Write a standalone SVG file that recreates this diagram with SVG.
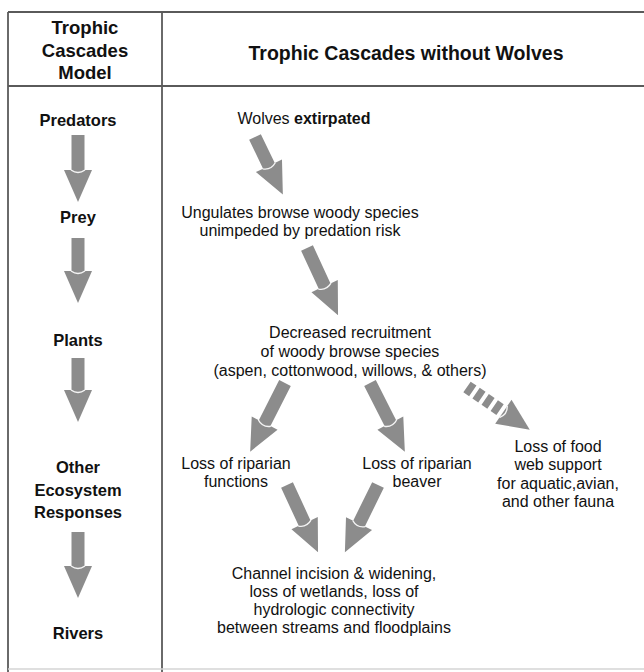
<svg xmlns="http://www.w3.org/2000/svg" width="644" height="672" viewBox="0 0 644 672">
<style>
.hd{font-family:"Liberation Sans",Arial,sans-serif;font-weight:bold;fill:#111;text-anchor:middle}
.lb{font-family:"Liberation Sans",Arial,sans-serif;font-weight:bold;font-size:16.5px;fill:#111;text-anchor:middle}
.tx{font-family:"Liberation Sans",Arial,sans-serif;font-size:16px;fill:#111;text-anchor:middle}
.arr{fill:#8c8c8c}
.notch{fill:none;stroke:#f4f4f4;stroke-width:1.4}
.dash{stroke:#8c8c8c;stroke-width:13;stroke-dasharray:7 4;fill:none}
.grid{stroke:#5a5a5a;stroke-width:1.8;fill:none}
</style>
<rect width="644" height="672" fill="#ffffff"/>
<g id="table">
<line class="grid" x1="8" y1="12" x2="644" y2="12"/>
<line class="grid" x1="8" y1="12" x2="8" y2="672"/>
<line class="grid" x1="162" y1="12" x2="162" y2="672"/>
<line class="grid" x1="8" y1="86" x2="644" y2="86"/>
<line x1="8" y1="669" x2="644" y2="669" stroke="#d4d4d4" stroke-width="1.5"/>
</g>
<g id="header">
<text class="hd" font-size="18.5" x="85" y="34">Trophic</text>
<text class="hd" font-size="18.5" x="85" y="57">Cascades</text>
<text class="hd" font-size="18.5" x="85" y="79">Model</text>
<text class="hd" font-size="19.5" x="406" y="60">Trophic Cascades without Wolves</text>
</g>
<g id="model-column">
<g id="predators"><text class="lb" x="78" y="126">Predators</text></g>
<g id="prey"><text class="lb" x="78" y="223">Prey</text></g>
<g id="plants"><text class="lb" x="78" y="346">Plants</text></g>
<g id="other"><text class="lb" x="78" y="473">Other</text><text class="lb" x="78" y="496">Ecosystem</text><text class="lb" x="78" y="518">Responses</text></g>
<g id="rivers"><text class="lb" x="78" y="639">Rivers</text></g>
</g>
<g id="n-wolves"><text class="tx" x="304" y="124">Wolves <tspan font-weight="bold">extirpated</tspan></text></g>
<g id="n-ungulates"><text class="tx" x="300" y="218">Ungulates browse woody species</text><text class="tx" x="300" y="236">unimpeded by predation risk</text></g>
<g id="n-decreased"><text class="tx" x="350" y="338">Decreased recruitment</text><text class="tx" x="350" y="357">of woody browse species</text><text class="tx" x="350" y="376">(aspen, cottonwood, willows, &amp; others)</text></g>
<g id="n-functions"><text class="tx" x="236" y="469">Loss of riparian</text><text class="tx" x="236" y="487">functions</text></g>
<g id="n-beaver"><text class="tx" x="417" y="469">Loss of riparian</text><text class="tx" x="417" y="487">beaver</text></g>
<g id="n-food"><text class="tx" x="558" y="452">Loss of food</text><text class="tx" x="558" y="470">web support</text><text class="tx" x="558" y="489">for aquatic,avian,</text><text class="tx" x="558" y="507">and other fauna</text></g>
<g id="n-channel"><text class="tx" x="334" y="579">Channel incision &amp; widening,</text><text class="tx" x="334" y="597">loss of wetlands, loss of</text><text class="tx" x="334" y="615">hydrologic connectivity</text><text class="tx" x="334" y="633">between streams and floodplains</text></g>
<g id="connectors">
<g transform="translate(78,135)"><path class="arr" d="M-6.5 0H6.5V35H14L0 67L-14 35H-6.5Z"/><path class="notch" d="M-7 35Q0 40 7 35"/></g>
<g transform="translate(78,238)"><path class="arr" d="M-6.5 0H6.5V33H14L0 65L-14 33H-6.5Z"/><path class="notch" d="M-7 33Q0 38 7 33"/></g>
<g transform="translate(78,358)"><path class="arr" d="M-6.5 0H6.5V32H14L0 64L-14 32H-6.5Z"/><path class="notch" d="M-7 32Q0 37 7 32"/></g>
<g transform="translate(78,532)"><path class="arr" d="M-6.5 0H6.5V34H14L0 66L-14 34H-6.5Z"/><path class="notch" d="M-7 34Q0 39 7 34"/></g>
<g transform="translate(255,137) rotate(-25.8)"><path class="arr" d="M-6.5 0H6.5V32H14.5L0 64L-14.5 32H-6.5Z"/><path class="notch" d="M-7 32Q0 37 7 32"/></g>
<g transform="translate(307,248) rotate(-24.8)"><path class="arr" d="M-6.5 0H6.5V42H14.5L0 74L-14.5 42H-6.5Z"/><path class="notch" d="M-7 42Q0 47 7 42"/></g>
<g transform="translate(285,383) rotate(26.9)"><path class="arr" d="M-6.5 0H6.5V45H14.5L0 77L-14.5 45H-6.5Z"/><path class="notch" d="M-7 45Q0 50 7 45"/></g>
<g transform="translate(370,383) rotate(-26.9)"><path class="arr" d="M-6.5 0H6.5V45H14.5L0 77L-14.5 45H-6.5Z"/><path class="notch" d="M-7 45Q0 50 7 45"/></g>
<g transform="translate(467,387) rotate(-55.7)"><line class="dash" x1="0" y1="0" x2="0" y2="44"/><path class="arr" d="M-14.5 44H14.5L0 76Z"/><path class="notch" d="M-7 44Q0 49 7 44"/></g>
<g transform="translate(287,485) rotate(-24.8)"><path class="arr" d="M-6.5 0H6.5V42H14.5L0 74L-14.5 42H-6.5Z"/><path class="notch" d="M-7 42Q0 47 7 42"/></g>
<g transform="translate(378,485) rotate(26.2)"><path class="arr" d="M-6.5 0H6.5V43H14.5L0 75L-14.5 43H-6.5Z"/><path class="notch" d="M-7 43Q0 48 7 43"/></g>
</g>
</svg>
